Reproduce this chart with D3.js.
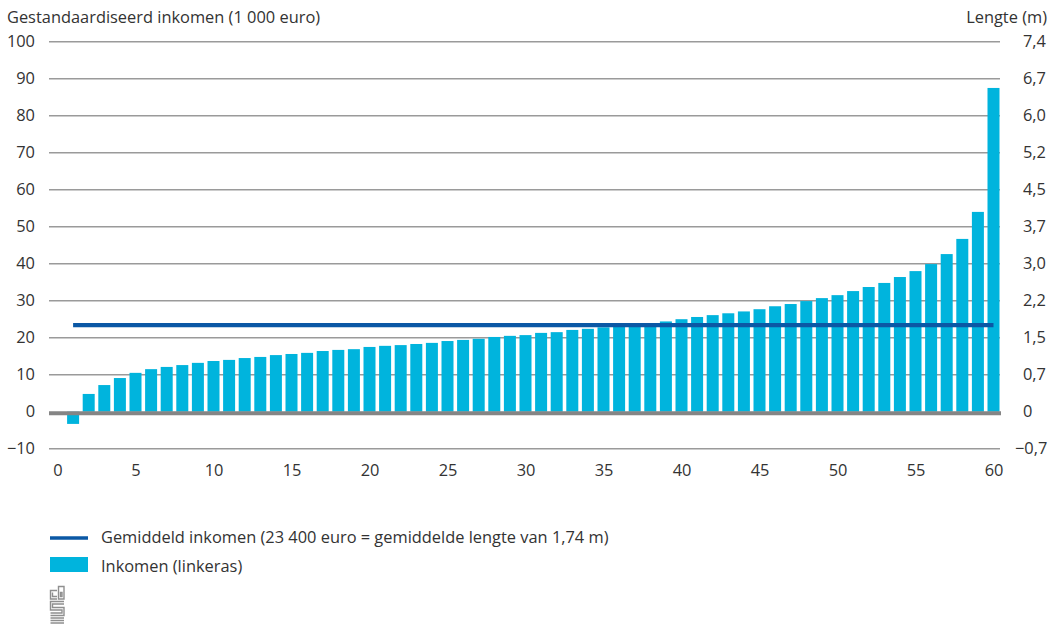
<!DOCTYPE html>
<html>
<head>
<meta charset="utf-8">
<script src="https://cdn.jsdelivr.net/npm/d3@7"></script>
<style>
  html, body { margin: 0; padding: 0; background: #fff; }
  svg { display: block; }
  text { font-family: "Open Sans", "Noto Sans", sans-serif; fill: #333; }
</style>
</head>
<body>
<svg id="chart" width="1057" height="624"></svg>
<script>
// ---- data ----
const positions = d3.range(1, 61);
const income = [-3.3, 4.8, 7.2, 9.1, 10.5, 11.5, 12.1, 12.6, 13.2, 13.7,
                14.0, 14.5, 14.8, 15.3, 15.6, 15.9, 16.4, 16.7, 16.9, 17.5,
                17.8, 18.0, 18.3, 18.6, 19.1, 19.4, 19.7, 20.2, 20.5, 20.7,
                21.3, 21.5, 22.1, 22.4, 22.8, 23.1, 23.4, 23.9, 24.4, 25.0,
                25.6, 26.1, 26.6, 27.1, 27.7, 28.5, 29.1, 29.9, 30.7, 31.5,
                32.6, 33.7, 34.8, 36.4, 38.0, 39.9, 42.6, 46.7, 54.0, 87.5];
const meanIncome = 23.4;
const leftTicks = [-10, 0, 10, 20, 30, 40, 50, 60, 70, 80, 90, 100];
const rightTickLabels = ["−0,7", "0", "0,7", "1,5", "2,2", "3,0", "3,7", "4,5", "5,2", "6,0", "6,7", "7,4"];
const xTicks = [0, 5, 10, 15, 20, 25, 30, 35, 40, 45, 50, 55, 60];
const leftTitle = "Gestandaardiseerd inkomen (1 000 euro)";
const rightTitle = "Lengte (m)";
const legendLine = "Gemiddeld inkomen (23 400 euro = gemiddelde lengte van 1,74 m)";
const legendBar = "Inkomen (linkeras)";

// ---- layout ----
const FS = 16.4;
const FF = "Open Sans, Noto Sans, sans-serif";
const svg = d3.select("#chart");
const x = d3.scaleLinear().domain([0, 60]).range([57.5, 993.5]);
const y = d3.scaleLinear().domain([-10, 100]).range([448.7, 41.7]);
const gridX0 = 49, gridX1 = 1000;
const barW = 12;
const fmt = v => v < 0 ? "−" + Math.abs(v) : String(v);

// titles
svg.append("text").attr("x", 7).attr("y", 23).attr("font-size", FS).text(leftTitle);
svg.append("text").attr("x", 1047).attr("y", 23).attr("font-size", FS)
   .attr("text-anchor", "end").text(rightTitle);

// gridlines
svg.append("g").selectAll("line").data(leftTicks.filter(d => d !== 0)).join("line")
  .attr("x1", gridX0).attr("x2", gridX1)
  .attr("y1", d => y(d)).attr("y2", d => y(d))
  .attr("stroke", "#9a9a9a").attr("stroke-width", 1.4);

// left axis labels
const leftAxis = d3.axisLeft(y).tickValues(leftTicks).tickFormat(fmt).tickSize(0).tickPadding(0);
const gl = svg.append("g").attr("transform", "translate(35,0)").call(leftAxis);
gl.select(".domain").remove();
gl.selectAll("text").attr("font-size", FS).attr("font-family", FF).attr("fill", "#333");

// right axis labels
svg.append("g").selectAll("text").data(leftTicks).join("text")
  .attr("x", (d, i) => rightTickLabels[i].startsWith("−") ? 1015 : 1023)
  .attr("y", d => y(d)).attr("dy", "0.35em").attr("font-size", FS)
  .text((d, i) => rightTickLabels[i]);

// bars
svg.append("g").selectAll("rect").data(income).join("rect")
  .attr("x", (d, i) => x(positions[i]) - barW / 2)
  .attr("width", barW)
  .attr("y", d => y(Math.max(0, d)))
  .attr("height", d => Math.abs(y(d) - y(0)))
  .attr("fill", "#00b4dd");

// zero line
svg.append("line").attr("x1", gridX0).attr("x2", gridX1 + 1)
  .attr("y1", y(0) + 1.6).attr("y2", y(0) + 1.6)
  .attr("stroke", "#858585").attr("stroke-width", 4);

// mean line
svg.append("line")
  .attr("x1", x(positions[0])).attr("x2", x(positions[positions.length - 1]))
  .attr("y1", y(meanIncome)).attr("y2", y(meanIncome))
  .attr("stroke", "#0b58a5").attr("stroke-width", 4.2);

// x axis labels
const xAxis = d3.axisBottom(x).tickValues(xTicks).tickFormat(d => d).tickSize(0).tickPadding(0);
const gx = svg.append("g").attr("transform", "translate(0,464)").call(xAxis);
gx.select(".domain").remove();
gx.selectAll("text").attr("font-size", FS).attr("font-family", FF).attr("fill", "#333");

// legend
const lg = svg.append("g");
lg.append("line").attr("x1", 50).attr("x2", 88).attr("y1", 538).attr("y2", 538)
  .attr("stroke", "#0b58a5").attr("stroke-width", 3.5);
lg.append("text").attr("x", 101).attr("y", 537).attr("dy", "0.35em").attr("font-size", FS).text(legendLine);
lg.append("rect").attr("x", 50).attr("y", 557).attr("width", 38).attr("height", 15).attr("fill", "#00b4dd");
lg.append("text").attr("x", 101).attr("y", 566).attr("dy", "0.35em").attr("font-size", FS).text(legendBar);

// logo (CBS-like outline)
const logo = svg.append("g").attr("fill", "none").attr("stroke", "#8f8f8f").attr("stroke-width", 1.4);
logo.append("path").attr("d", "M57,590.5 H50.5 V599 H57 M52.5,592.5 V596.5 H57");
logo.append("path").attr("d", "M58.5,599 V586.5 H64 V599 Z M60.5,592.5 H62 V596.5 H60.5 Z");
logo.append("path").attr("d", "M64,601.5 H50.5 V610 H62 V613 H50.5 M64,604 H52.5 V607.5 H64 V615.5 H50.5 M50.5,618 H64 M50.5,620.5 H64 M50.5,623 H64");
</script>
</body>
</html>
